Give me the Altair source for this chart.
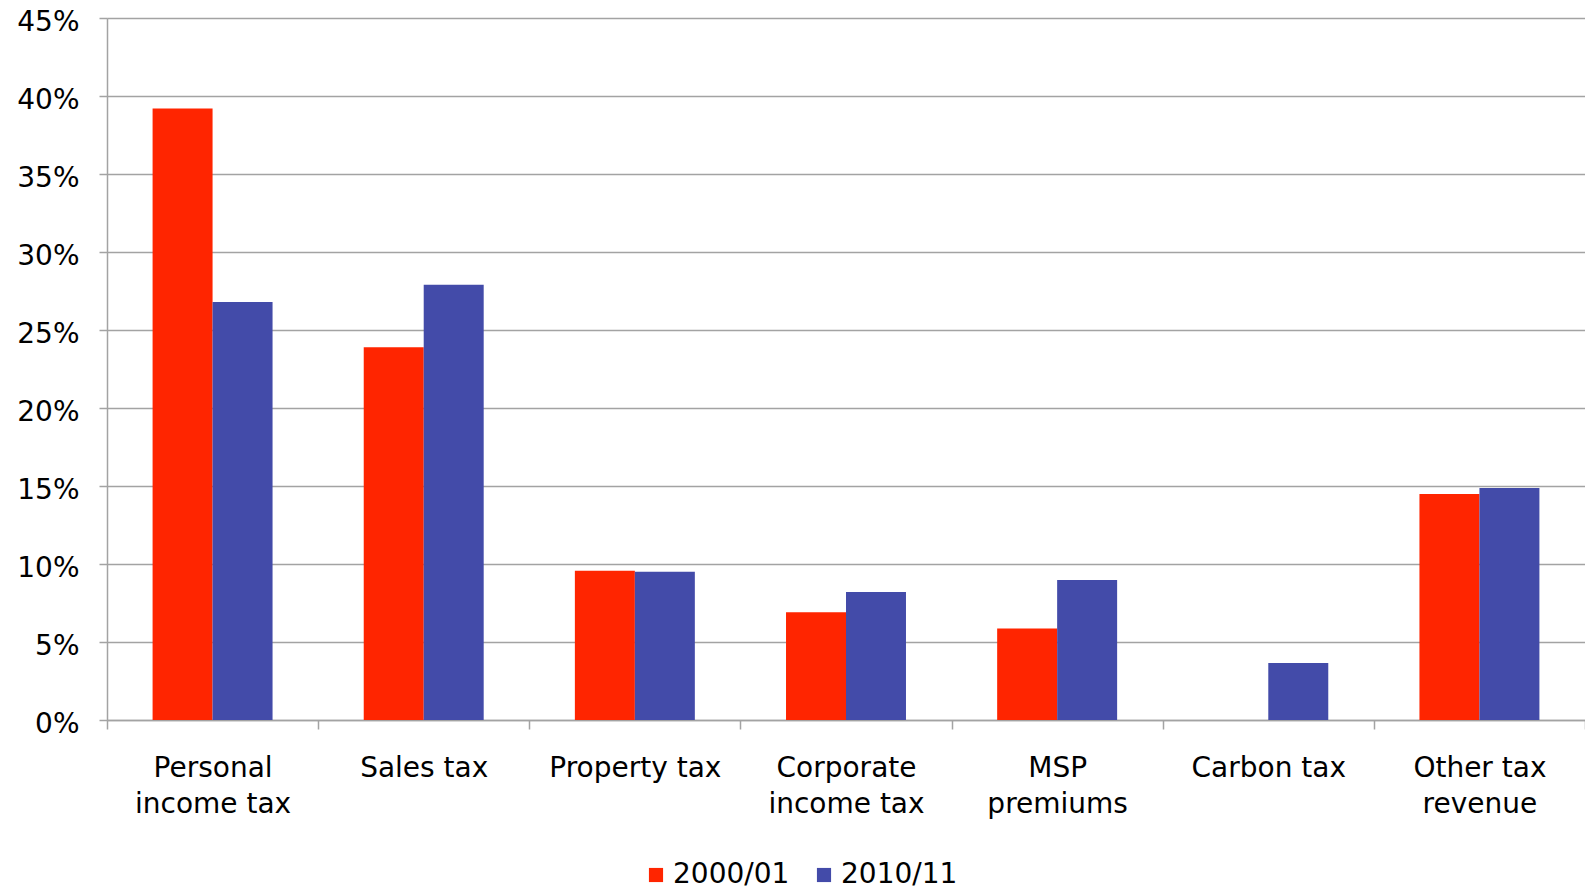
import altair as alt
import pandas as pd

categories = ["Personal\nincome tax", "Sales tax", "Property tax", "Corporate\nincome tax",
              "MSP\npremiums", "Carbon tax", "Other tax\nrevenue"]
series = ["2000/01", "2010/11"]
values_2000 = [0.392, 0.239, 0.0956, 0.069, 0.0587, None, 0.1449]
values_2010 = [0.268, 0.279, 0.095, 0.082, 0.0897, 0.0366, 0.1487]
colors = ["#FF2500", "#434BA9"]

rows = []
for c, v in zip(categories, values_2000):
    if v is not None:
        rows.append({"category": c, "year": series[0], "share": v})
for c, v in zip(categories, values_2010):
    if v is not None:
        rows.append({"category": c, "year": series[1], "share": v})
df = pd.DataFrame(rows)

FONT = "DejaVu Sans"
GRID = "#A3A3A3"

chart = alt.Chart(df).mark_bar().encode(
    x=alt.X("category:N", sort=categories,
            scale=alt.Scale(paddingInner=0, paddingOuter=0),
            axis=alt.Axis(title=None, labelAngle=0, labelFontSize=28, labelFont=FONT,
                          labelColor="#000000", labelLineHeight=36, labelPadding=25,
                          labelExpr="split(datum.label, '\\n')",
                          tickBand="extent", tickSize=9, tickColor=GRID, tickWidth=1.5,
                          domainColor=GRID, domainWidth=1.5, labelBaseline="top")),
    xOffset=alt.XOffset("year:N", sort=series,
                        scale=alt.Scale(paddingInner=0, paddingOuter=0.76)),
    y=alt.Y("share:Q", scale=alt.Scale(domain=[0, 0.45], nice=False),
            axis=alt.Axis(title=None, format=".0%", values=[i * 0.05 for i in range(10)],
                          labelFontSize=28, labelFont=FONT, labelColor="#000000",
                          labelPadding=20, labelOffset=4, tickSize=8, tickColor=GRID,
                          tickWidth=1.5, gridColor=GRID, gridWidth=1.5,
                          domainColor=GRID, domainWidth=1.5)),
    color=alt.Color("year:N", sort=series,
                    scale=alt.Scale(domain=series, range=colors),
                    legend=alt.Legend(title=None, orient="none", direction="horizontal",
                                      legendX=535, legendY=843, symbolType="square",
                                      symbolSize=200, symbolStrokeWidth=0,
                                      labelFontSize=28, labelFont=FONT, labelColor="#000000",
                                      labelOffset=3, columnPadding=20)),
).properties(
    width=1478, height=702,
    autosize=alt.AutoSizeParams(type="none"),
    padding={"left": 107, "top": 18, "right": 0, "bottom": 176},
).configure_view(stroke=None).configure(background="white")

chart.save("out.html", embed_options={"renderer": "svg", "actions": False})
